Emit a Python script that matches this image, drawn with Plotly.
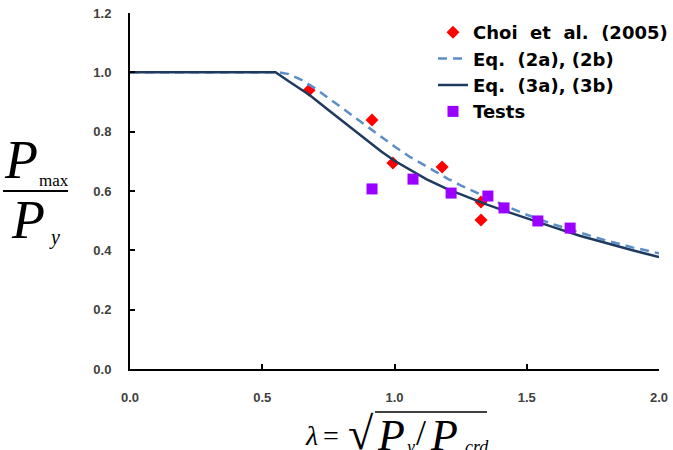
import plotly.graph_objects as go

# ---- data ----
choi_x = [0.677, 0.915, 0.994, 1.180, 1.327, 1.327]
choi_y = [0.940, 0.839, 0.694, 0.681, 0.563, 0.502]

test_x = [0.915, 1.070, 1.214, 1.353, 1.414, 1.542, 1.664]
test_y = [0.607, 0.640, 0.593, 0.583, 0.543, 0.499, 0.475]

eq2_x = [0.0, 0.561, 0.60, 0.65, 0.70, 0.76, 0.82, 0.87, 0.93, 1.00, 1.06, 1.12, 1.20,
         1.25, 1.35, 1.42, 1.50, 1.60, 1.70, 1.80, 1.90, 2.00]
eq2_y = [1.0, 1.000, 0.994, 0.974, 0.946, 0.908, 0.868, 0.835, 0.795, 0.750, 0.714, 0.682, 0.642,
         0.619, 0.577, 0.550, 0.520, 0.488, 0.460, 0.433, 0.410, 0.390]

eq3_x = [0.0, 0.55, 0.60, 0.68, 0.75, 0.80, 0.85, 0.90, 0.95, 1.00, 1.06, 1.12, 1.20,
         1.25, 1.35, 1.42, 1.50, 1.60, 1.70, 1.80, 1.90, 2.00]
eq3_y = [1.0, 1.00, 0.970, 0.923, 0.873, 0.838, 0.801, 0.766, 0.733, 0.702, 0.670, 0.640, 0.606,
         0.588, 0.554, 0.532, 0.507, 0.478, 0.449, 0.424, 0.400, 0.377]

x_ticks = [0.0, 0.5, 1.0, 1.5, 2.0]
x_ticklabels = ["0.0", "0.5", "1.0", "1.5", "2.0"]
y_ticks = [0.0, 0.2, 0.4, 0.6, 0.8, 1.0, 1.2]
y_ticklabels = ["0.0", "0.2", "0.4", "0.6", "0.8", "1.0", "1.2"]

legend_names = ["Choi  et  al.  (2005)", "Eq.  (2a), (2b)", "Eq.  (3a), (3b)", "Tests"]

# ---- layout geometry (pixels) ----
W, H = 673, 450
L, R, T, B = 130, 14, 13, 81
PW, PH = W - L - R, H - T - B

def px(x):
    return (x - L) / PW

def py(y):
    return (H - B - y) / PH

fig = go.Figure()
fig.add_trace(go.Scatter(x=choi_x, y=choi_y, mode="markers", name=legend_names[0],
                         marker=dict(symbol="diamond", size=10, color="#FF0000")))
fig.add_trace(go.Scatter(x=eq2_x, y=eq2_y, mode="lines", name=legend_names[1],
                         line=dict(color="#5B8DC6", width=2.5, dash="9px,6px")))
fig.add_trace(go.Scatter(x=eq3_x, y=eq3_y, mode="lines", name=legend_names[2],
                         line=dict(color="#1F3A5F", width=2.5)))
fig.add_trace(go.Scatter(x=test_x, y=test_y, mode="markers", name=legend_names[3],
                         marker=dict(symbol="square", size=11, color="#9900FF")))

serif = "Liberation Serif, Times New Roman, serif"
ann = []

def add(text, x, y, size, italic=False, xanchor="center", yanchor="middle"):
    t = f"<i>{text}</i>" if italic else text
    ann.append(dict(text=t, x=px(x), y=py(y), xref="paper", yref="paper",
                    showarrow=False, xanchor=xanchor, yanchor=yanchor,
                    font=dict(family=serif, size=size, color="black")))

# y-axis title: P_max / P_y
add("P", 21, 160, 54, italic=True)
add("max", 54, 180, 17)
add("P", 28, 220, 54, italic=True)
add("y", 54, 237, 20, italic=True)

# x-axis title: lambda = sqrt(P_y / P_crd)
add("λ", 311, 435, 28, italic=True)
add("=", 331, 435, 28)
add("√", 361, 433, 46)
add("P", 391, 435, 44, italic=True)
add("y", 410, 447, 18, italic=True)
add("/", 421, 433, 36)
add("P", 444, 435, 44, italic=True)
add("crd", 477, 447, 18, italic=True)

shapes = [
    dict(type="line", xref="paper", yref="paper", x0=px(3), x1=px(68), y0=py(191), y1=py(191),
         line=dict(color="black", width=2)),
    dict(type="line", xref="paper", yref="paper", x0=px(375), x1=px(487), y0=py(412), y1=py(412),
         line=dict(color="black", width=1.5)),
]

tickfont = dict(family="Liberation Sans, Arial, sans-serif", size=13, color="#404040", weight="bold")

fig.update_layout(
    width=W, height=H,
    margin=dict(l=L, r=R, t=T, b=B, pad=0, autoexpand=False),
    paper_bgcolor="white", plot_bgcolor="white",
    showlegend=True,
    legend=dict(x=px(433), y=py(14), xanchor="left", yanchor="top",
                bgcolor="rgba(0,0,0,0)", borderwidth=0,
                font=dict(family="DejaVu Sans, sans-serif", size=18, color="black", weight="bold"),
                tracegroupgap=0),
    xaxis=dict(range=[0, 2.0], tickvals=x_ticks, ticktext=x_ticklabels,
               showgrid=False, zeroline=False, showline=True, linecolor="black", linewidth=2,
               ticks="inside", ticklen=5, tickwidth=2, tickcolor="black",
               tickfont=tickfont, ticklabelstandoff=15, fixedrange=True),
    yaxis=dict(range=[0, 1.2], tickvals=y_ticks, ticktext=y_ticklabels,
               showgrid=False, zeroline=False, showline=True, linecolor="black", linewidth=2,
               ticks="inside", ticklen=5, tickwidth=2, tickcolor="black",
               tickfont=tickfont, ticklabelstandoff=14, fixedrange=True),
    annotations=ann,
    shapes=shapes,
)

fig.write_html("out.html")
